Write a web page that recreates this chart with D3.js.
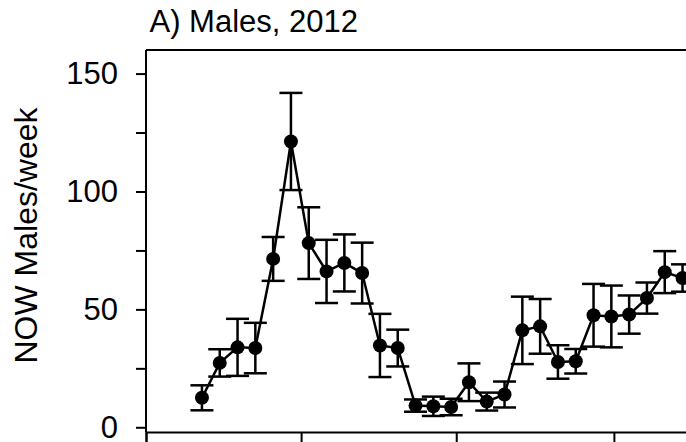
<!DOCTYPE html>
<html lang="en">
<head>
<meta charset="UTF-8">
<title>Males, 2012</title>
<script src="https://cdn.jsdelivr.net/npm/d3@7"></script>
<style>
  body { margin: 0; background: #fff; }
  svg text { font-family: "Liberation Sans", Arial, sans-serif; fill: #000; }
</style>
</head>
<body>
<div id="viz"></div>
<script>
// weekly sampling dates (2012)
let weeks = ["2012-03-23", "2012-03-30", "2012-04-06", "2012-04-13", "2012-04-20", "2012-04-27",
             "2012-05-04", "2012-05-11", "2012-05-18", "2012-05-25", "2012-06-01", "2012-06-08",
             "2012-06-15", "2012-06-22", "2012-06-29", "2012-07-06", "2012-07-13", "2012-07-20",
             "2012-07-27", "2012-08-03", "2012-08-10", "2012-08-17", "2012-08-24", "2012-08-31",
             "2012-09-07", "2012-09-14", "2012-09-21", "2012-09-28"];
// mean NOW males per week
let males = [12.5, 27.3, 33.9, 33.6, 71.4, 121.2, 78.1, 66.1, 69.7, 65.4, 34.7, 33.6,
             9.2, 8.9, 8.6, 19.1, 10.9, 13.9, 41.1, 42.8, 27.7, 28.0, 47.5, 47.0,
             47.8, 54.8, 65.8, 63.3];
// standard error (half of error bar)
let se = [5.3, 5.8, 12.1, 10.7, 9.3, 20.6, 15.2, 13.4, 12.1, 12.9, 13.4, 7.8,
          2.6, 4.1, 3.5, 8.0, 3.8, 5.5, 14.3, 11.6, 7.1, 5.2, 13.3, 13.1,
          8.1, 6.6, 8.9, 5.8];
let yTicks = [0, 25, 50, 75, 100, 125, 150];
let yLabels = [0, 50, 100, 150];
let title = "A) Males, 2012";
let yTitle = "NOW Males/week";

let w = 686, h = 442;
let svg = d3.select("#viz").append("svg")
    .attr("width", w)
    .attr("height", h);

let parse = d3.utcParse("%Y-%m-%d");
let data = weeks.map(function(d, i){
    return {date: parse(d), value: males[i], se: se[i]};
});

let x = d3.scaleUtc()
    .domain([parse("2012-03-01"), parse("2012-11-01")])
    .range([146, 769]);
let y = d3.scaleLinear()
    .domain([-2, 160])
    .range([432, 50]);

// frame top line
svg.append("line")
    .attr("x1", x.range()[0]).attr("x2", x.range()[1])
    .attr("y1", y(160)).attr("y2", y(160))
    .attr("stroke", "#000").attr("stroke-width", 2);

// y axis
let yAxis = svg.append("g")
    .attr("transform", "translate(" + x.range()[0] + ",0)")
    .call(d3.axisLeft(y).tickValues(yTicks).tickSize(10).tickFormat(function(d){
        return yLabels.includes(d) ? d : "";
    }).tickPadding(18));
yAxis.select(".domain").attr("stroke-width", 2).attr("d", "M0," + y(160) + "V" + y(-2));
yAxis.selectAll(".tick line").attr("stroke-width", 2);
yAxis.selectAll("text").style("font-size", "31px").attr("font-family", null);

// x axis (ticks every two months, labels fall below the visible frame)
let xAxis = svg.append("g")
    .attr("transform", "translate(0," + y(-2) + ")")
    .call(d3.axisBottom(x).ticks(d3.utcMonth.every(2)).tickSize(10).tickFormat(""));
xAxis.select(".domain").attr("stroke-width", 2);
xAxis.selectAll(".tick line").attr("stroke-width", 2);

// error bars
let bars = svg.append("g").attr("stroke", "#000").attr("stroke-width", 2.5);
data.forEach(function(d){
    let cx = x(d.date);
    bars.append("line").attr("x1", cx).attr("x2", cx)
        .attr("y1", y(d.value + d.se)).attr("y2", y(d.value - d.se));
    bars.append("line").attr("x1", cx - 11.5).attr("x2", cx + 11.5)
        .attr("y1", y(d.value + d.se)).attr("y2", y(d.value + d.se));
    bars.append("line").attr("x1", cx - 11.5).attr("x2", cx + 11.5)
        .attr("y1", y(d.value - d.se)).attr("y2", y(d.value - d.se));
});

// connecting line
let line = d3.line()
    .x(function(d){ return x(d.date); })
    .y(function(d){ return y(d.value); });
svg.append("path")
    .datum(data)
    .attr("d", line)
    .attr("fill", "none")
    .attr("stroke", "#000")
    .attr("stroke-width", 2.5);

// points
svg.selectAll("circle")
    .data(data)
    .enter()
    .append("circle")
    .attr("cx", function(d){ return x(d.date); })
    .attr("cy", function(d){ return y(d.value); })
    .attr("r", 7)
    .attr("fill", "#000");

// titles
svg.append("text")
    .attr("x", 149.5)
    .attr("y", 32)
    .style("font-size", "31px")
    .text(title);

svg.append("text")
    .attr("transform", "translate(37,235.5) rotate(-90)")
    .attr("text-anchor", "middle")
    .style("font-size", "32px")
    .text(yTitle);
</script>
</body>
</html>
